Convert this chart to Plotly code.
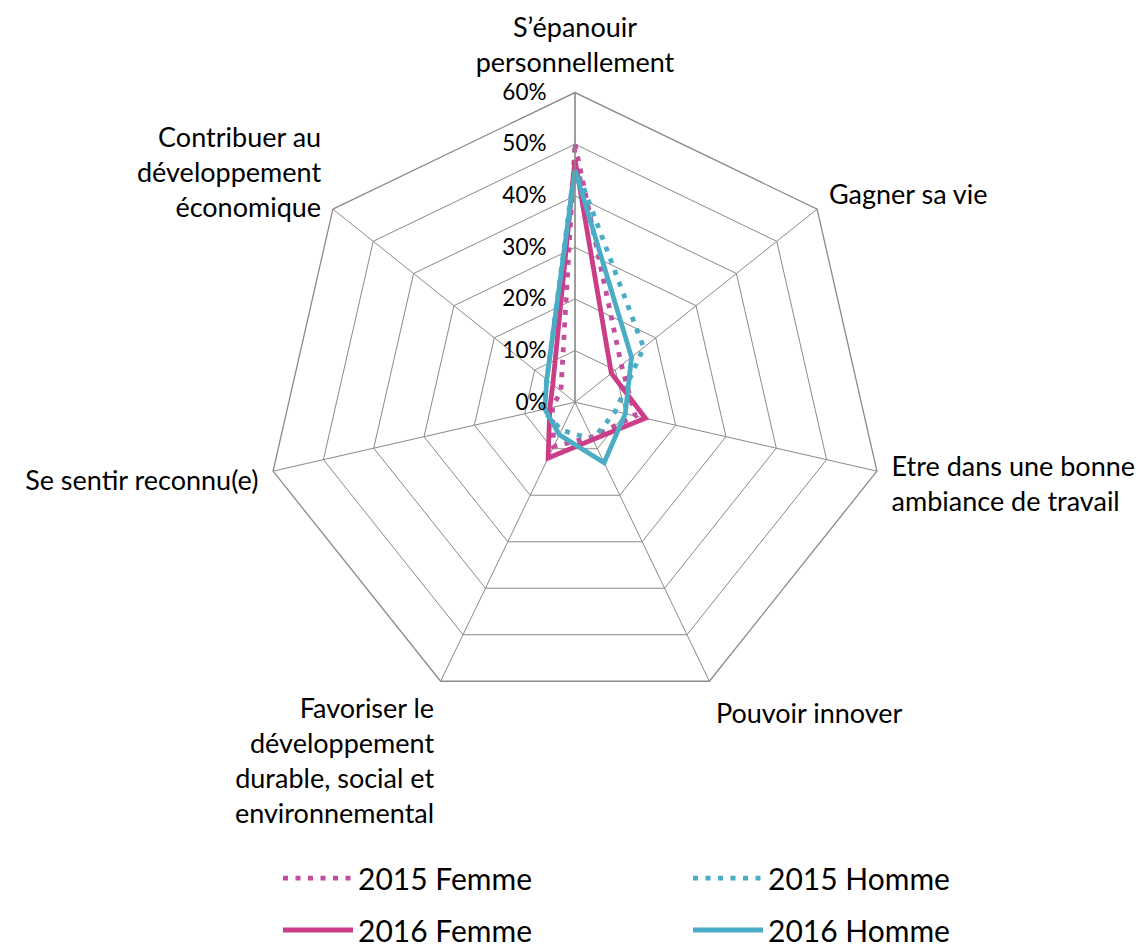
import plotly.graph_objects as go

categories = [
    "S’épanouir personnellement",
    "Gagner sa vie",
    "Etre dans une bonne ambiance de travail",
    "Pouvoir innover",
    "Favoriser le développement durable, social et environnemental",
    "Se sentir reconnu(e)",
    "Contribuer au développement économique",
]
tick_labels = [
    "S’épanouir<br>personnellement",
    "Gagner sa vie",
    "Etre dans une bonne<br>ambiance de travail",
    "Pouvoir innover",
    "Favoriser le<br>développement<br>durable, social et<br>environnemental",
    "Se sentir reconnu(e)",
    "Contribuer au<br>développement<br>économique",
]

femme_2015 = [50, 11.5, 12, 7.5, 9.5, 4.5, 3.5]
homme_2015 = [46, 17, 8, 8, 6, 6.5, 7]
femme_2016 = [47, 9, 14, 8, 12, 5, 5.5]
homme_2016 = [45, 14, 10, 13, 7, 6, 7]

radial_ticks = [0, 10, 20, 30, 40, 50, 60]

DOTS = "5px,7.5px"
series = [
    ("2015 Femme", femme_2015, "#C24E9E", DOTS, "legend"),
    ("2015 Homme", homme_2015, "#4BACC6", DOTS, "legend"),
    ("2016 Femme", femme_2016, "#CC3D87", "solid", "legend2"),
    ("2016 Homme", homme_2016, "#4BACC6", "solid", "legend2"),
]

FONT = "Lato"
GRID = "#8A8A8A"

fig = go.Figure()
for name, vals, color, dash, leg in series:
    fig.add_trace(go.Scatterpolar(
        r=vals + vals[:1],
        theta=categories + categories[:1],
        mode="lines",
        name=name,
        legend=leg,
        line=dict(color=color, width=4.8, dash=dash),
    ))

cx, cy, R = 567, 401, 315
W, H = 1145, 948
leg_common = dict(
    orientation="h",
    xanchor="left",
    yanchor="middle",
    entrywidth=325,
    itemwidth=70,
    font=dict(size=30, family=FONT, color="black"),
    bgcolor="rgba(0,0,0,0)",
)
fig.update_layout(
    width=W, height=H,
    margin=dict(l=0, r=0, t=0, b=0),
    paper_bgcolor="white",
    plot_bgcolor="white",
    font=dict(family=FONT, size=22, color="black"),
    polar=dict(
        domain=dict(x=[(cx - R) / W, (cx + R) / W],
                    y=[(H - cy - R) / H, (H - cy + R) / H]),
        gridshape="linear",
        bgcolor="white",
        angularaxis=dict(
            rotation=90, direction="clockwise",
            tickmode="array", tickvals=categories, ticktext=tick_labels,
            showline=True, linecolor=GRID, linewidth=1.3,
            gridcolor=GRID, gridwidth=1.3,
            ticks="outside", ticklen=9, tickcolor="rgba(0,0,0,0)",
            tickfont=dict(size=27, family=FONT),
        ),
        radialaxis=dict(
            range=[0, 60], tickvals=radial_ticks,
            ticktext=[f"{v}%" for v in radial_ticks],
            angle=90, tickangle=90, side="counterclockwise",
            showline=True, linecolor=GRID, linewidth=1.3,
            gridcolor=GRID, gridwidth=1.3,
            ticks="outside", ticklen=20, tickcolor="rgba(0,0,0,0)",
            tickfont=dict(size=22.5, family=FONT),
        ),
    ),
    legend=dict(x=270 / W, y=(H - 885) / H, **leg_common),
    legend2=dict(x=270 / W, y=(H - 938) / H, **leg_common),
    showlegend=True,
)

fig.write_html("out.html")
